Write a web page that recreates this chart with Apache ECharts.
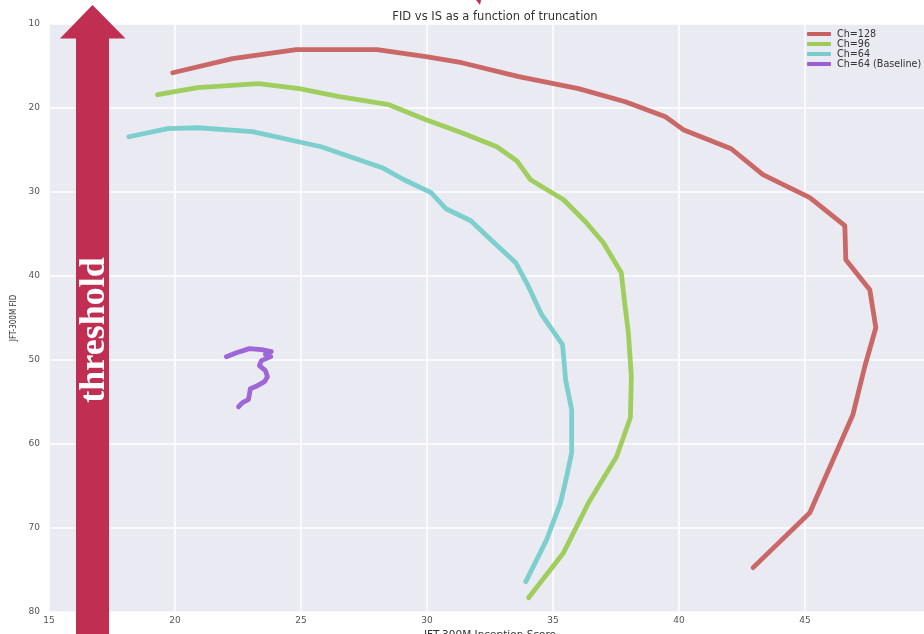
<!DOCTYPE html>
<html><head><meta charset="utf-8">
<script src="https://cdn.jsdelivr.net/npm/echarts@6/dist/echarts.min.js"></script>
<style>html,body{margin:0;padding:0;background:#fff}#c{width:924px;height:634px}</style>
</head><body><div id="c"></div>
<script>
const titleText = 'FID vs IS as a function of truncation';
const xName = 'JFT-300M Inception Score';
const yName = 'JFT-300M FID';
const seriesNames = ['Ch=128', 'Ch=96', 'Ch=64', 'Ch=64 (Baseline)'];

const ch128IS  = [19.91, 22.28, 24.81, 28.02, 29.96, 31.38, 33.64, 36.01, 37.87, 39.46, 40.17, 42.07, 43.33, 45.19, 46.58, 46.62, 47.57, 47.81, 47.37, 46.90, 45.19, 42.94];
const ch128FID = [15.80, 14.13, 13.06, 13.06, 13.89, 14.61, 16.27, 17.70, 19.25, 21.04, 22.58, 24.85, 27.94, 30.68, 34.01, 38.06, 41.63, 46.16, 50.80, 56.51, 68.18, 74.72];

const ch96IS  = [19.31, 20.90, 23.31, 24.93, 26.52, 28.49, 29.96, 31.38, 32.77, 33.56, 34.11, 35.42, 36.29, 37.00, 37.71, 37.83, 37.99, 38.11, 38.07, 37.52, 36.41, 35.42, 34.03];
const ch96FID = [18.42, 17.58, 17.11, 17.70, 18.65, 19.61, 21.39, 22.94, 24.61, 26.27, 28.54, 30.92, 33.54, 36.04, 39.61, 42.82, 46.75, 51.99, 56.87, 61.51, 66.99, 72.94, 78.30];

const ch64IS  = [18.17, 19.71, 20.90, 23.07, 25.80, 28.22, 29.09, 30.16, 30.75, 31.74, 32.45, 33.52, 34.03, 34.55, 35.38, 35.50, 35.74, 35.74, 35.54, 35.30, 34.75, 33.92];
const ch64FID = [23.42, 22.46, 22.35, 22.82, 24.61, 27.11, 28.54, 30.08, 31.99, 33.42, 35.44, 38.42, 41.27, 44.61, 48.18, 52.35, 55.92, 61.04, 63.89, 66.99, 71.39, 76.39];

const baseIS  = [22.04, 22.44, 22.95, 23.43, 23.82, 23.59, 23.80, 23.43, 23.35, 23.59, 23.67, 23.55, 23.27, 22.99, 22.95, 22.91, 22.68, 22.52];
const baseFID = [49.61, 49.13, 48.65, 48.77, 49.01, 49.37, 49.60, 50.07, 50.67, 51.27, 51.99, 52.58, 53.06, 53.42, 54.13, 54.73, 55.08, 55.56];

const xTicks = [15, 20, 25, 30, 35, 40, 45];
const yTicks = [10, 20, 30, 40, 50, 60, 70, 80];

const colors = ['#c8605f', '#9ccc55', '#77cdcb', '#9a5fd4'];

function pairs(xs, ys){ return xs.map((x,i)=>[x, ys[i]]); }
const allX = [ch128IS, ch96IS, ch64IS, baseIS];
const allY = [ch128FID, ch96FID, ch64FID, baseFID];

const chart = echarts.init(document.getElementById('c'), null, {renderer:'canvas'});
const font = 'DejaVu Sans, sans-serif';

const option = {
  animation: false,
  backgroundColor: '#ffffff',
  title: {
    text: titleText, left: 490, top: 6, textAlign: 'center',
    textStyle: {fontFamily: font, fontSize: 11.5, fontWeight: 'normal', color: '#333'}
  },
  legend: {
    orient: 'vertical', left: 802, top: 24,
    itemWidth: 24, itemHeight: 4, itemGap: 0, icon: 'roundRect',
    textStyle: {fontFamily: font, fontSize: 9.6, color: '#333', lineHeight: 9.6, padding: [0,0,0,1]},
    data: seriesNames
  },
  grid: {left: 49, top: 24, width: 882, height: 588, show: true, backgroundColor: '#eaeaf2', borderWidth: 0,
    containLabel: false, outerBoundsMode: 'none'},
  xAxis: {
    type: 'value', min: 15, max: 50, interval: 5,
    name: xName, nameLocation: 'middle', nameGap: 15,
    nameTextStyle: {fontFamily: font, fontSize: 10.5, color: '#333'},
    axisLine: {show: false}, axisTick: {show: false},
    axisLabel: {fontFamily: font, fontSize: 9, color: '#555', margin: 4,
      formatter: v => xTicks.includes(v) ? String(v) : ''},
    splitLine: {show: true, lineStyle: {color: '#ffffff', width: 1.5}}
  },
  yAxis: {
    type: 'value', min: 10, max: 80, interval: 10, inverse: true,
    name: yName, nameLocation: 'middle', nameGap: 31, nameRotate: 90,
    nameTextStyle: {fontFamily: 'DejaVu Sans Condensed, Liberation Sans Narrow, sans-serif', fontSize: 8, color: '#333'},
    axisLine: {show: false}, axisTick: {show: false},
    axisLabel: {fontFamily: font, fontSize: 9, color: '#555', margin: 9,
      formatter: v => yTicks.includes(v) ? String(v) : ''},
    splitLine: {show: true, lineStyle: {color: '#ffffff', width: 1.5}}
  },
  series: seriesNames.map((n, i) => ({
    name: n, type: 'line', data: pairs(allX[i], allY[i]),
    showSymbol: false, symbol: 'none', smooth: false,
    lineStyle: {color: colors[i], width: 4.8, cap: 'round', join: 'round', opacity: 0.95},
    itemStyle: {color: colors[i]},
    z: 2
  })),
  graphic: [
    {type: 'rect', shape: {x: 76, y: 37, width: 33, height: 600}, style: {fill: '#c02f51'}, z: 100},
    {type: 'polygon', shape: {points: [[60, 38.5], [125.5, 38.5], [92.5, 5]]}, style: {fill: '#c02f51'}, z: 100},
    {type: 'polygon', shape: {points: [[476, 0], [481, 0], [480, 5]]}, style: {fill: '#c02f51'}, z: 100},
    {type: 'text', x: 95, y: 330, rotation: Math.PI / 2,
      style: {text: 'threshold', fill: '#ffffff', font: 'bold 36px "Liberation Serif", "DejaVu Serif", serif',
        align: 'center', verticalAlign: 'middle'}, z: 101}
  ]
};
chart.setOption(option);
</script>
</body></html>
